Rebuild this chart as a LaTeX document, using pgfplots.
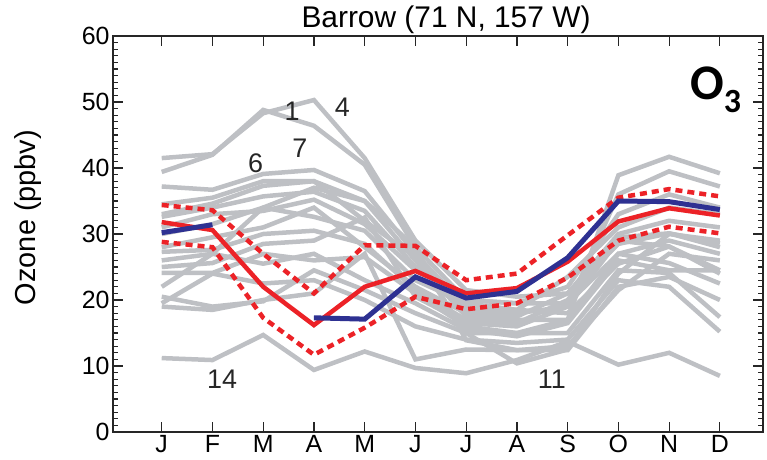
\documentclass[border=0pt]{standalone}
\usepackage{fontspec}
\setmainfont{Liberation Sans}
\newfontfamily\calibri{Carlito}
\usepackage{pgfplots}
\usepackage{pgfplotstable}
\pgfplotsset{compat=1.18}

\definecolor{model}{HTML}{BEC0C4}
\definecolor{mmred}{HTML}{EC2227}
\definecolor{obsblue}{HTML}{2E3192}

% Monthly mean surface ozone (ppbv) at Barrow from the individual models
\pgfplotstableread{
m  g1   g2   g3   g4   g5   g6   g7   g8   g9   g10  g11  g12  g13  g14  g15  g16  g17  g18
1  41.5 39.4 37.2 33.0 32.6 31.0 30.0 28.0 27.3 25.0 24.1 22.0 20.5 19.5 19.0 11.2 26.0 34.5
2  42.1 42.0 36.7 34.6 34.0 33.0 31.5 29.5 27.6 25.6 24.1 27.0 19.0 24.0 18.5 10.9 27.0 35.5
3  48.3 48.8 39.1 37.3 35.7 33.5 34.0 31.0 30.0 28.5 27.0 25.5 19.8 22.5 20.0 14.7 34.0 38.0
4  50.3 46.4 39.7 38.0 36.4 35.2 32.6 34.0 30.5 29.0 26.0 27.0 24.5 23.0 21.0  9.4 37.0 38.0
5  41.5 40.5 36.5 35.0 33.5 31.5 30.5 28.0 28.5 32.5 26.5 23.0 21.5 20.0 27.0 12.2 35.0 32.0
6  29.0 28.0 27.0 26.0 25.0 24.5 23.0 22.0 21.5 20.5 21.0 19.5 18.0 16.0 11.0  9.7 28.0 26.5
7  21.5 20.0 19.0 17.5 18.5 20.0 19.5 18.0 17.0 16.5 16.0 15.5 15.0 14.0 12.5  8.9 13.9 15.0
8  20.5 19.5 18.5 17.0 18.0 19.5 18.5 17.5 16.5 16.0 15.0 14.5 15.0 13.5 12.4 10.9 12.4 10.4
9  21.0 19.5 18.0 17.0 19.0 22.0 23.5 21.0 20.0 19.0 17.0 16.5 15.0 14.0 12.4 13.7 13.0 12.5
10 28.5 27.0 25.5 38.9 36.0 33.0 31.0 30.0 29.5 29.0 27.0 26.0 24.5 23.0 22.0 10.2 21.5 24.0
11 30.1 29.0 28.1 41.7 39.5 36.0 34.0 32.0 30.1 28.1 25.6 24.5 24.1 22.0 23.5 12.0 27.0 30.0
12 28.6 27.0 24.5 39.2 37.2 34.0 33.0 31.0 28.0 24.0 22.5 24.5 17.4 15.2 20.0  8.5 26.0 29.0
}\models

% Multi-model mean, mean +/- one standard deviation, and observations
\pgfplotstableread{
m  mean  upper lower obs
1  31.8  34.4  28.8  30.2
2  30.6  33.6  28.0  31.4
3  22.0  27.0  17.3  nan
4  16.2  21.0  11.7  17.3
5  22.0  28.3  15.8  17.1
6  24.4  28.2  20.5  23.5
7  21.0  23.0  18.6  20.3
8  21.8  24.0  19.5  21.3
9  25.8  29.8  23.4  26.4
10 31.9  35.5  29.0  35.0
11 33.9  36.8  31.1  34.9
12 32.8  35.7  30.1  33.7
}\summary

\begin{document}
\begin{tikzpicture}
\useasboundingbox (0,0) rectangle (767bp,460bp);
\begin{axis}[
  at={(113bp,28bp)}, anchor=south west,
  scale only axis, width=650bp, height=396bp,
  xmin=0.04, xmax=12.85, ymin=0, ymax=60,
  xtick={1,...,12}, xticklabels={J,F,M,A,M,J,J,A,S,O,N,D},
  ytick={0,10,...,60}, minor y tick num=9,
  tick align=inside, xtick pos=both, ytick pos=both,
  major tick length=10bp, minor tick length=5bp,
  axis line style={line width=1.5bp, black!85},
  every tick/.style={black!85, line width=1.2bp},
  tick label style={font=\fontsize{25}{25}\selectfont},
  /pgf/number format/assume math mode=true,
  unbounded coords=jump,
  clip=false,
]
\pgfplotsinvokeforeach{1,...,18}{
  \addplot[model, line width=4.5bp, no markers] table[x=m, y=g#1] {\models};
}
\addplot[mmred, line width=4.5bp, dash pattern=on 7bp off 5bp, no markers] table[x=m, y=upper] {\summary};
\addplot[mmred, line width=4.5bp, dash pattern=on 7bp off 5bp, no markers] table[x=m, y=lower] {\summary};
\addplot[mmred, line width=4.5bp, no markers] table[x=m, y=mean] {\summary};
\addplot[obsblue, line width=5bp, no markers] table[x=m, y=obs] {\summary};

% model numbers beside their curves
\begin{scope}[every node/.style={font=\fontsize{27}{27}\selectfont, text=black!85}]
\node at (axis cs:3.57,48.6) {1};
\node at (axis cs:4.56,49.2) {4};
\node at (axis cs:3.72,43.0) {7};
\node at (axis cs:2.85,40.7) {6};
\node at (axis cs:2.19,8.0) {14};
\node at (axis cs:8.69,8.0) {11};
\end{scope}
\end{axis}
\node[anchor=base, font=\fontsize{30}{30}\selectfont] at (446bp,432bp) {Barrow (71 N, 157 W)};
\node[rotate=90, font=\fontsize{29}{29}\selectfont] at (28.5bp,242.5bp) {Ozone (ppbv)};
\node[anchor=base west, inner sep=0pt, font=\calibri\bfseries\fontsize{50}{50}\selectfont]
  at (690bp,360bp) {O\raisebox{-13bp}{\fontsize{34}{34}\selectfont 3}};
\end{tikzpicture}
\end{document}
